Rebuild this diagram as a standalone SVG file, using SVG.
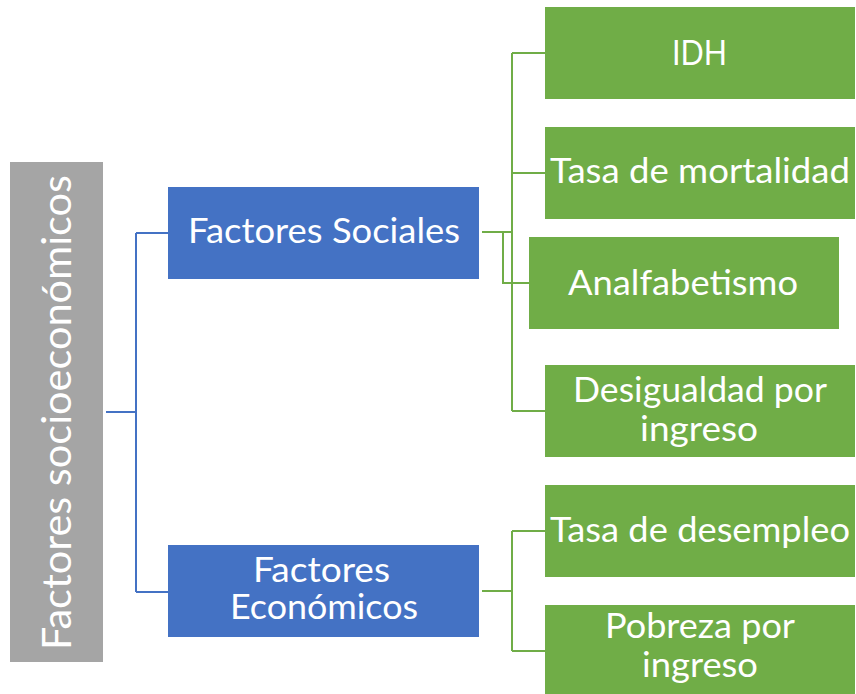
<svg xmlns="http://www.w3.org/2000/svg" width="856" height="694" viewBox="0 0 856 694">
<style>
.t{font-family:Lato,"Open Sans","Liberation Sans",sans-serif;font-size:35px;fill:#fff;text-anchor:middle}
.gray{fill:#A5A5A5}
.blue{fill:#4472C4}
.green{fill:#70AD47}
.lb{fill:none;stroke:#4472C4;stroke-width:2}
.lg{fill:none;stroke:#70AD47;stroke-width:2}
</style>
<rect width="856" height="694" fill="#fff"/>
<g id="connectors">
<path class="lb" d="M106 412H136M136 233V592M136 233H168M136 592H168"/>
<path class="lg" d="M482 232H512M512 53V411M512 53H545M512 173H545M512 411H545M503 232V283H529"/>
<path class="lg" d="M482 591H512M512 531V651M512 531H545M512 651H545"/>
</g>
<g id="root">
<rect class="gray" x="10" y="162" width="93" height="500"/>
<text class="t" style="font-size:41px" transform="translate(71 412.5) rotate(-90)" textLength="475" lengthAdjust="spacingAndGlyphs">Factores socioeconómicos</text>
</g>
<g id="sociales">
<rect class="blue" x="168" y="187" width="311" height="92"/>
<text class="t" x="324" y="243" textLength="272" lengthAdjust="spacingAndGlyphs">Factores Sociales</text>
</g>
<g id="economicos">
<rect class="blue" x="168" y="545" width="311" height="92"/>
<text class="t" x="321.5" y="582" textLength="137" lengthAdjust="spacingAndGlyphs">Factores</text>
<text class="t" x="324" y="619" textLength="188" lengthAdjust="spacingAndGlyphs">Económicos</text>
</g>
<g id="idh">
<rect class="green" x="545" y="7" width="310" height="92"/>
<text class="t" x="699.5" y="65" textLength="55" lengthAdjust="spacingAndGlyphs">IDH</text>
</g>
<g id="mortalidad">
<rect class="green" x="545" y="127" width="310" height="92"/>
<text class="t" x="700" y="183" textLength="300" lengthAdjust="spacingAndGlyphs">Tasa de mortalidad</text>
</g>
<g id="analfabetismo">
<rect class="green" x="529" y="237" width="310" height="92"/>
<text class="t" x="683" y="295" textLength="230" lengthAdjust="spacingAndGlyphs">Analfabetismo</text>
</g>
<g id="desigualdad">
<rect class="green" x="545" y="365" width="310" height="92"/>
<text class="t" x="700" y="402" textLength="254" lengthAdjust="spacingAndGlyphs">Desigualdad por</text>
<text class="t" x="699" y="441" textLength="118" lengthAdjust="spacingAndGlyphs">ingreso</text>
</g>
<g id="desempleo">
<rect class="green" x="545" y="485" width="310" height="92"/>
<text class="t" x="700" y="542" textLength="300" lengthAdjust="spacingAndGlyphs">Tasa de desempleo</text>
</g>
<g id="pobreza">
<rect class="green" x="545" y="605" width="310" height="92"/>
<text class="t" x="700" y="638" textLength="190" lengthAdjust="spacingAndGlyphs">Pobreza por</text>
<text class="t" x="700" y="677" textLength="116" lengthAdjust="spacingAndGlyphs">ingreso</text>
</g>
</svg>
